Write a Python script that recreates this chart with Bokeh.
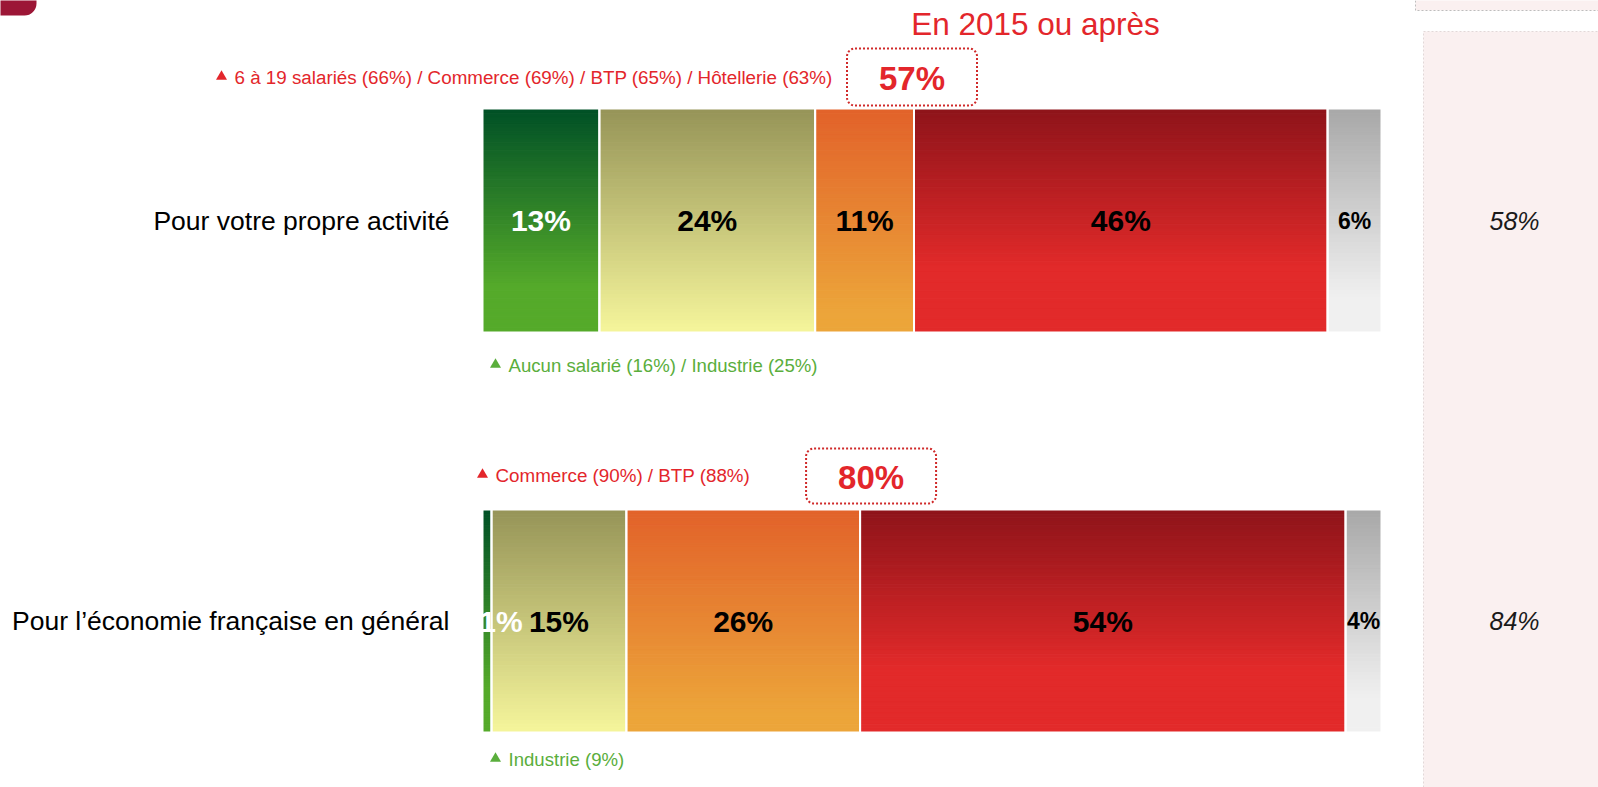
import numpy as np
from bokeh.plotting import figure
from bokeh.models import Range1d, ColumnDataSource
from bokeh.core.properties import value
from bokeh.embed import file_html
from bokeh.resources import INLINE

# ---------------- data ----------------
rows = ["Pour votre propre activité", "Pour l’économie française en général"]
series = ["En 2013", "En 2014", "En 2015", "Plus tard", "NSP"]
vals_activite = [13, 24, 11, 46, 6]
vals_economie = [1, 15, 26, 54, 4]
previous_wave = ["58%", "84%"]
headline = "En 2015 ou après"
notes_up = ["6 à 19 salariés (66%) / Commerce (69%) / BTP (65%) / Hôtellerie (63%)",
            "Commerce (90%) / BTP (88%)"]
notes_down = ["Aucun salarié (16%) / Industrie (25%)", "Industrie (9%)"]

all_vals = [vals_activite, vals_economie]

# ---------------- layout helpers ----------------
W, H = 1598, 787
PX0, PX100 = 482.0, 1381.0
K = (PX100 - PX0) / 100.0


def X(px):
    return (px - PX0) / K


FONT = value("Liberation Sans")
RED = "#E3262B"
GREEN = "#5AAE3C"

p = figure(width=W, height=H, x_range=Range1d(X(0), X(W)),
           y_range=Range1d(H, 0), output_backend="svg", toolbar_location=None,
           x_axis_type=None, y_axis_type=None, min_border=0)
p.grid.visible = False
p.outline_line_color = None
p.background_fill_color = "white"
p.border_fill_color = "white"

# decorations (right panel, corners)
p.quad(left=[X(1423)], right=[X(1620)], top=[31], bottom=[800], fill_color="#FAF0F0",
       line_color="#E2D8D8", line_dash="2 2", line_width=1)
p.quad(left=[X(1415)], right=[X(1620)], top=[-20], bottom=[10], fill_color="#FAF0F0",
       line_color="#BDBDBD", line_dash="2 2", line_width=1)
p.quad(left=[X(-30)], right=[X(36)], top=[-30], bottom=[15], fill_color="#9C1636",
       line_color=None, border_radius=12)

# gradients: top colour, bottom colour, fraction of height where bottom colour reached
grads = [
    ((0, 80, 38), (85, 170, 42), 0.80),
    ((150, 148, 88), (245, 245, 155), 1.0),
    ((226, 98, 42), (236, 165, 58), 0.92),
    ((142, 20, 26), (226, 42, 42), 0.72),
    ((168, 168, 168), (240, 240, 240), 0.85),
]
label_colors = ["white", "black", "black", "black", "black"]

bar_tops = [109, 510]
bar_bottoms = [331, 731]
N = 60

L, R, T, B, C = [], [], [], [], []
for r, vals in enumerate(all_vals):
    cum = np.concatenate([[0], np.cumsum(vals)])
    ty, by = bar_tops[r], bar_bottoms[r]
    for i in range(len(vals)):
        c0, c1, stop = grads[i]
        for j in range(N):
            t = min(1.0, ((j + 0.5) / N) / stop)
            col = tuple(int(round(c0[k] + (c1[k] - c0[k]) * t)) for k in range(3))
            L.append(cum[i]); R.append(cum[i + 1])
            T.append(ty + (by - ty) * j / N); B.append(ty + (by - ty) * (j + 1) / N)
            C.append("#%02x%02x%02x" % col)
p.quad(left="l", right="r", top="t", bottom="b", fill_color="c", line_color="c",
       line_width=1, source=ColumnDataSource(dict(l=L, r=R, t=T, b=B, c=C)))

# segment outlines / gaps + labels
box_shift_px = [-2, 11]
for r, vals in enumerate(all_vals):
    cum = np.concatenate([[0], np.cumsum(vals)])
    ty, by = bar_tops[r], bar_bottoms[r]
    p.quad(left=cum[:-1], right=cum[1:], top=[ty - 1] * len(vals), bottom=[by + 1] * len(vals),
           fill_color=None, line_color="white", line_width=2)
    xs = list((cum[:-1] + cum[1:]) / 2)
    ym = (ty + by) / 2
    sizes = ["30px"] * (len(vals) - 1) + ["23px"]
    offs = [14 if v < 3 else 0 for v in vals]
    p.text(x=xs, y=[ym] * len(vals), text=[f"{v}%" for v in vals], x_offset=offs,
           text_color=label_colors, text_font=FONT, text_font_size=sizes,
           text_font_style="bold", text_align="center", text_baseline="middle")
    # row label
    p.text(x=[X(449)], y=[ym], text=[rows[r]], text_font=FONT, text_font_size=value("26.5px"),
           text_color="black", text_align="right", text_baseline="middle")
    # previous wave
    p.text(x=[X(1514)], y=[ym], text=[previous_wave[r]], text_font=FONT,
           text_font_size=value("25px"), text_font_style="italic", text_color="#1a1a1a",
           text_align="center", text_baseline="middle")
    # 2015+ box, near the start of the 2015 segment
    total = vals[2] + vals[3]
    cx = cum[2] + vals[2] + box_shift_px[r] / K
    box_y = [(48, 105), (448, 503)][r]
    p.quad(left=[cx - 65 / K], right=[cx + 65 / K], top=[box_y[0]], bottom=[box_y[1]],
           fill_color=None, line_color="#D02A2A", line_dash="2 2", line_width=2, border_radius=8)
    p.text(x=[cx], y=[(box_y[0] + box_y[1]) / 2 + 1], text=[f"{total}%"], text_font=FONT,
           text_font_size=value("33px"), text_font_style="bold", text_color=RED,
           text_align="center", text_baseline="middle")

# headline
p.text(x=[X(1035)], y=[23], text=[headline], text_font=FONT, text_font_size=value("31.5px"),
       text_color=RED, text_align="center", text_baseline="middle")

# notes (over-represented groups)
up_pos = [(216, 77), (477, 475)]
down_pos = [(490, 365), (490, 759)]
for r in range(2):
    tx, ty = up_pos[r]
    p.scatter(x=[X(tx + 5)], y=[ty - 1], marker="triangle", size=11, fill_color=RED, line_color=None)
    p.text(x=[X(tx + 18)], y=[ty], text=[notes_up[r]], text_font=FONT,
           text_font_size=value("18.8px"), text_color=RED, text_align="left",
           text_baseline="middle")
    gx, gy = down_pos[r]
    p.scatter(x=[X(gx + 5)], y=[gy - 1], marker="triangle", size=11, fill_color=GREEN, line_color=None)
    p.text(x=[X(gx + 18)], y=[gy], text=[notes_down[r]], text_font=FONT,
           text_font_size=value("18.6px"), text_color=GREEN, text_align="left",
           text_baseline="middle")

open("out.html", "w").write(file_html(p, INLINE))
